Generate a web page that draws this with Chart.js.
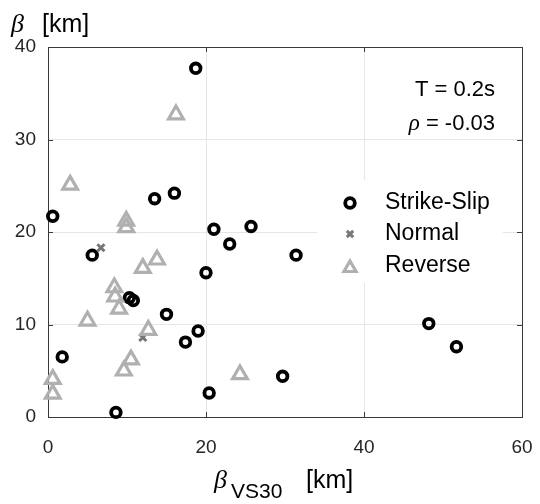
<!DOCTYPE html>
<html>
<head>
<meta charset="utf-8">
<script src="https://cdn.jsdelivr.net/npm/chart.js@4.4.1/dist/chart.umd.min.js"></script>
<style>
  body { margin: 0; background: #fff; }
  canvas { display: block; }
</style>
</head>
<body>
<canvas id="chart" width="540" height="504"></canvas>
<script>
// values
var strikeSlipX = [0.6, 18.7, 13.5, 16.0, 21.0, 23.0, 25.7, 31.4, 5.6, 20.0, 10.3, 10.8, 15.0, 19.0, 17.4, 1.8, 20.4, 8.6, 29.7, 48.2, 51.7];
var strikeSlipY = [21.7, 37.7, 23.6, 24.2, 20.3, 18.7, 20.6, 17.5, 17.5, 15.6, 12.9, 12.6, 11.1, 9.3, 8.1, 6.5, 2.6, 0.5, 4.4, 10.1, 7.6];
var normalX = [6.7, 12.0];
var normalY = [18.3, 8.6];
var reverseX = [2.8, 16.2, 9.9, 9.9, 12.0, 13.8, 8.4, 8.5, 9.0, 5.0, 12.7, 10.5, 9.6, 0.6, 0.6, 24.3];
var reverseY = [25.1, 32.7, 21.2, 20.5, 16.1, 17.0, 14.0, 13.0, 11.7, 10.4, 9.4, 6.2, 5.0, 4.1, 2.5, 4.6];
var xTicks = [0, 20, 40, 60];
var yTicks = [0, 10, 20, 30, 40];
var seriesNames = ['Strike-Slip', 'Normal', 'Reverse'];
var annotation = ['T = 0.2s', '-0.03'];

var SANS = "'Liberation Sans', Arial, Helvetica, sans-serif";
var SERIF = "'Liberation Serif', 'DejaVu Serif', serif";

function toPoints(xs, ys) {
  return xs.map(function(x, i) { return {x: x, y: ys[i]}; });
}

var styles = [
  {pointStyle: 'circle', radius: 4.8, borderWidth: 3.8, borderColor: '#000', backgroundColor: 'rgba(0,0,0,0)'},
  {pointStyle: 'crossRot', radius: 5, borderWidth: 3, borderColor: '#777', backgroundColor: 'rgba(0,0,0,0)'},
  {pointStyle: 'triangle', radius: 8.5, borderWidth: 3.2, borderColor: '#b0b0b0', backgroundColor: 'rgba(0,0,0,0)'}
];
var legendRadius = [4.8, 4.5, 7];

var boxPlugin = {
  id: 'matlabBox',
  beforeDatasetsDraw: function(chart) {
    var ctx = chart.ctx;
    ctx.save();
    // legend background hides the grid
    ctx.fillStyle = '#fff';
    ctx.fillRect(317, 180, 186, 103);
    ctx.restore();
  },
  afterDraw: function(chart) {
    var ctx = chart.ctx, a = chart.chartArea;
    var xs = chart.scales.x, ys = chart.scales.y;
    ctx.save();
    ctx.strokeStyle = '#3a3a3a';
    ctx.lineWidth = 1;
    ctx.beginPath();
    ctx.moveTo(a.left, a.top + 0.5);
    ctx.lineTo(a.right + 0.5, a.top + 0.5);
    ctx.lineTo(a.right + 0.5, a.bottom);
    // inward ticks
    xTicks.forEach(function(v) {
      var px = Math.round(xs.getPixelForValue(v)) + 0.5;
      ctx.moveTo(px, a.bottom); ctx.lineTo(px, a.bottom - 5);
      ctx.moveTo(px, a.top); ctx.lineTo(px, a.top + 5);
    });
    yTicks.forEach(function(v) {
      var py = Math.round(ys.getPixelForValue(v)) + 0.5;
      ctx.moveTo(a.left, py); ctx.lineTo(a.left + 5, py);
      ctx.moveTo(a.right, py); ctx.lineTo(a.right - 5, py);
    });
    ctx.stroke();

    // legend
    var rows = [203, 234, 266];
    ctx.font = '23px ' + SANS;
    ctx.textBaseline = 'middle';
    ctx.textAlign = 'left';
    seriesNames.forEach(function(name, i) {
      var st = styles[i];
      ctx.strokeStyle = st.borderColor;
      ctx.lineWidth = st.borderWidth;
      ctx.fillStyle = 'rgba(0,0,0,0)';
      Chart.helpers.drawPoint(ctx, {pointStyle: st.pointStyle, radius: legendRadius[i], borderWidth: st.borderWidth, rotation: 0}, 350, rows[i] + (i == 2 ? 2 : 0));
      ctx.fillStyle = '#000';
      ctx.fillText(name, 385, rows[i]);
    });

    // annotation text
    ctx.fillStyle = '#000';
    ctx.textAlign = 'right';
    ctx.textBaseline = 'alphabetic';
    ctx.font = '22px ' + SANS;
    ctx.fillText(annotation[0], 495, 96);
    ctx.fillText('= ' + annotation[1], 495, 130);
    var w2 = ctx.measureText('= ' + annotation[1]).width;
    ctx.font = 'italic 23px ' + SERIF;
    ctx.fillText('\u03C1', 495 - w2 - 6, 130);

    // axis titles
    ctx.textAlign = 'left';
    ctx.font = 'italic 26px ' + SERIF;
    ctx.fillText('\u03B2', 11, 32);
    ctx.font = '25px ' + SANS;
    ctx.fillText('[km]', 42, 32);

    ctx.font = 'italic 26px ' + SERIF;
    ctx.fillText('\u03B2', 214, 488);
    ctx.font = '21px ' + SANS;
    ctx.fillText('VS30', 231, 498);
    ctx.font = '25px ' + SANS;
    ctx.fillText('[km]', 306, 488);
    ctx.restore();
  }
};

function tickFont() { return {family: SANS, size: 19}; }

new Chart(document.getElementById('chart'), {
  type: 'scatter',
  data: {
    datasets: [
      Object.assign({label: seriesNames[0], data: toPoints(strikeSlipX, strikeSlipY), clip: false}, styles[0]),
      Object.assign({label: seriesNames[1], data: toPoints(normalX, normalY), clip: false}, styles[1]),
      Object.assign({label: seriesNames[2], data: toPoints(reverseX, reverseY), clip: false}, styles[2])
    ].reverse()
  },
  options: {
    responsive: false,
    animation: false,
    events: [],
    layout: {padding: {top: 47, right: 18, left: 0, bottom: 0}},
    plugins: {legend: {display: false}, tooltip: {enabled: false}},
    scales: {
      x: {
        type: 'linear', min: 0, max: 60,
        afterBuildTicks: function(s) { s.ticks = xTicks.map(function(v) { return {value: v}; }); },
        afterFit: function(s) { s.height = 87; s.paddingLeft = 0; s.paddingRight = 0; },
        ticks: {padding: 19, color: '#262626', font: tickFont(), maxRotation: 0},
        grid: {color: '#e6e6e6', drawTicks: false},
        border: {color: '#3a3a3a'}
      },
      y: {
        type: 'linear', min: 0, max: 40,
        afterBuildTicks: function(s) { s.ticks = yTicks.map(function(v) { return {value: v}; }); },
        afterFit: function(s) { s.width = 48; s.paddingTop = 0; s.paddingBottom = 0; },
        ticks: {padding: 12, color: '#262626', font: tickFont()},
        grid: {color: '#e6e6e6', drawTicks: false},
        border: {color: '#3a3a3a'}
      }
    }
  },
  plugins: [boxPlugin]
});
</script>
</body>
</html>
